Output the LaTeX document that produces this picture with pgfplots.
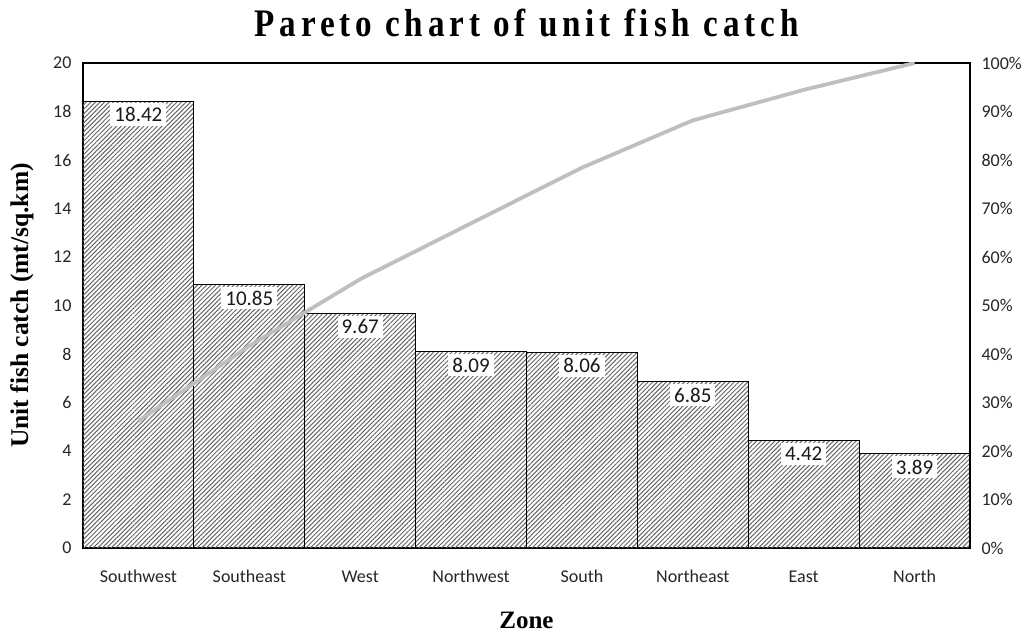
\documentclass[border=0pt]{standalone}
\usepackage{fontspec}
\setmainfont{Carlito}
\newfontfamily\serifb{Liberation Serif}
\newfontfamily\titlefont{Liberation Serif}[FakeStretch=0.85,LetterSpace=12.5]
\usepackage{pgfplots}
\pgfplotsset{compat=1.18}
\usetikzlibrary{patterns.meta}
\begin{document}
\begin{tikzpicture}
\begin{axis}[name=main, scale only axis, width=887pt, height=485pt,
  xmin=-0.5, xmax=7.5, ymin=0, ymax=20,
  ytick={0,2,...,20},
  xtick={0,...,7},
  xticklabels={Southwest,Southeast,West,Northwest,South,Northeast,East,North},
  major tick length=0pt,
  /pgf/number format/assume math mode=true,
  tick label style={font=\fontsize{18}{18}\selectfont, text=black!85},
  xticklabel style={yshift=-19pt, text height=12pt, text depth=3pt},
  yticklabel style={xshift=-8pt},
  axis line style={line width=1.4pt},
  ylabel={\serifb\bfseries\fontsize{25.5}{25.5}\selectfont Unit fish catch (mt/sq.km)},
  ylabel style={at={(axis description cs:-0.0688,0.5)}, anchor=center},
  xlabel={\serifb\bfseries\fontsize{25}{25}\selectfont Zone},
  xlabel style={at={(axis description cs:0.5,-0.1485)}, anchor=center},
  title={\titlefont\bfseries\fontsize{39}{39}\selectfont Pareto chart of unit fish catch},
  title style={at={(axis description cs:0.5,1)}, anchor=base, yshift=20pt},
]
\addplot[ybar, bar width=1, bar shift=0pt, draw=black, line width=1pt,
  pattern={Lines[angle=45, distance=3.2pt, line width=1pt]}, pattern color=black!60,
  point meta=y,
  nodes near coords,
  nodes near coords style={/pgf/number format/fixed, /pgf/number format/precision=2, /pgf/number format/fixed zerofill, /pgf/number format/assume math mode=true},
  every node near coord/.append style={anchor=north, fill=white, inner xsep=4pt, inner ysep=4pt, yshift=-1.5pt,
    font=\fontsize{21}{21}\selectfont, text=black!90},
] coordinates {(0,18.42) (1,10.85) (2,9.67) (3,8.09) (4,8.06) (5,6.85) (6,4.42) (7,3.89)};
\end{axis}
\begin{axis}[scale only axis, width=887pt, height=485pt,
  xmin=-0.5, xmax=7.5, ymin=0, ymax=100,
  axis x line=none, axis y line*=right,
  ytick={0,10,...,100},
  yticklabel={\pgfmathprintnumber{\tick}\%},
  major tick length=0pt,
  /pgf/number format/assume math mode=true,
  tick label style={font=\fontsize{18}{18}\selectfont, text=black!85},
  yticklabel style={xshift=8pt},
  axis line style={line width=1.4pt},
]
\addplot[color=black!25, line width=3.8pt] coordinates {(0,26.22) (1,41.67) (2,55.43) (3,66.95) (4,78.42) (5,88.17) (6,94.46) (7,100)};
\end{axis}
\pgfresetboundingbox
\path[use as bounding box] ([xshift=-83pt,yshift=-84pt]main.south west) rectangle ++(1035pt,632pt);
\end{tikzpicture}
\end{document}
